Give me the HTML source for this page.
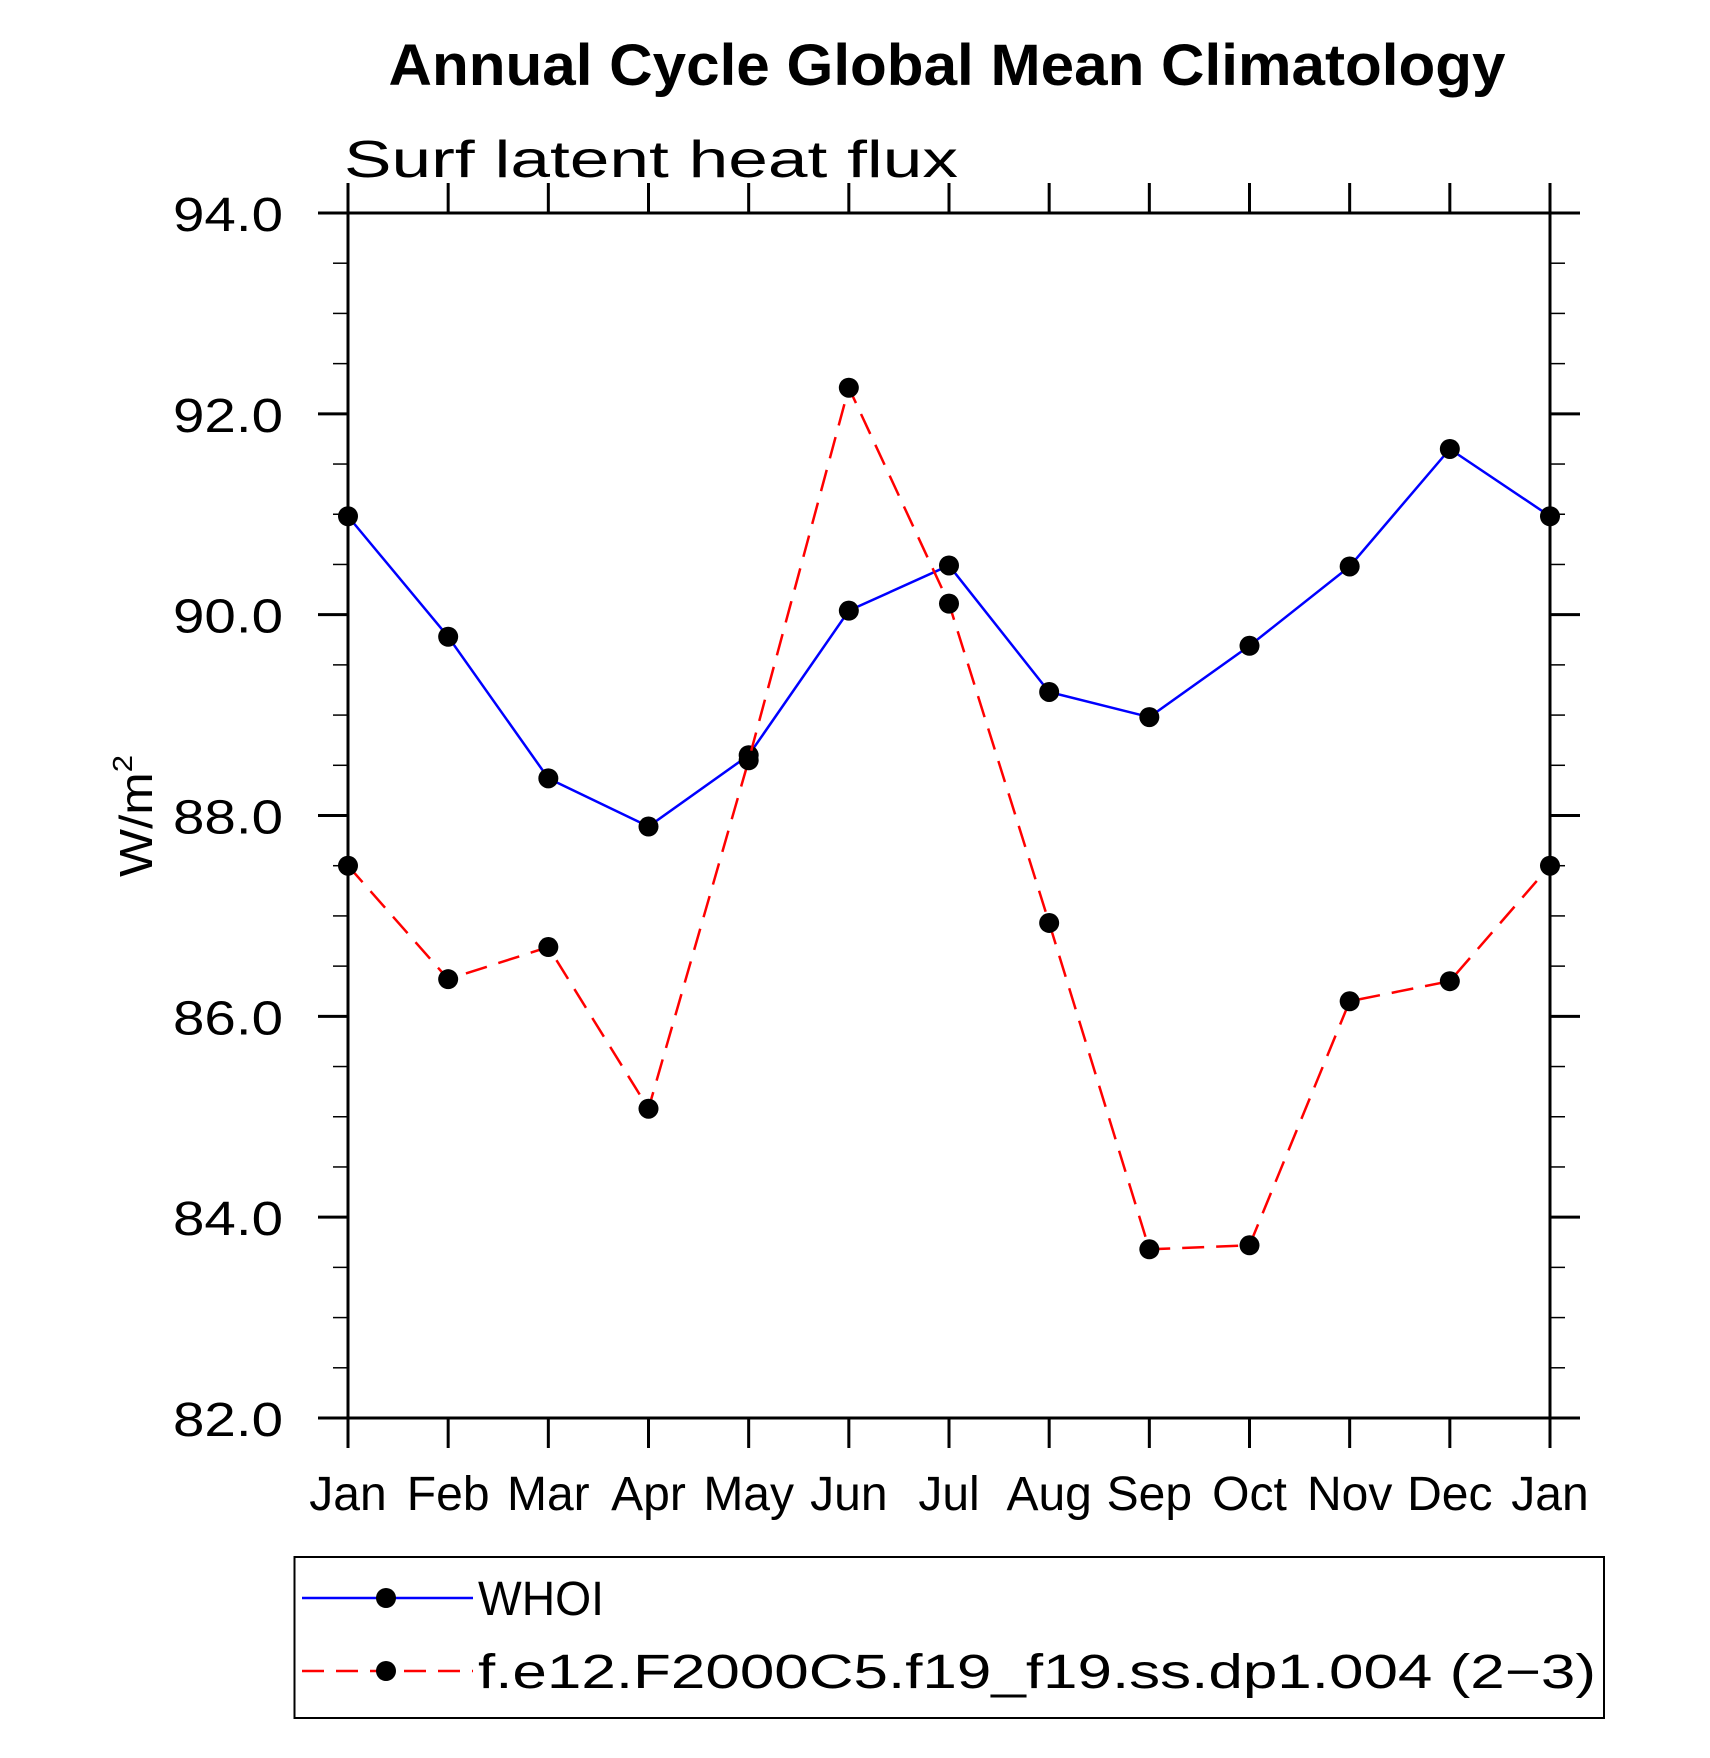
<!DOCTYPE html>
<html><head><meta charset="utf-8"><style>
html,body{margin:0;padding:0;background:#fff;}
svg{display:block;font-family:"Liberation Sans",sans-serif;}
.t{font-size:48px;fill:#000;}
</style></head><body>
<svg id="chart" width="1710" height="1758" viewBox="0 0 1710 1758" xmlns="http://www.w3.org/2000/svg">
<text x="947" y="85" text-anchor="middle" font-weight="bold" font-size="58" textLength="1117" lengthAdjust="spacingAndGlyphs">Annual Cycle Global Mean Climatology</text>
<text x="344" y="177" font-size="52" textLength="614" lengthAdjust="spacingAndGlyphs">Surf latent heat flux</text>
<text transform="translate(152,816) rotate(-90)" text-anchor="middle" font-size="46" textLength="122" lengthAdjust="spacingAndGlyphs">W/m<tspan font-size="28" dy="-20">2</tspan></text>
<g id="axes"></g>
<g id="series"></g>
<rect x="294.5" y="1557" width="1309.5" height="161" fill="none" stroke="#000" stroke-width="2"/>
<g>
<line x1="302" y1="1598" x2="473" y2="1598" stroke="#00f" stroke-width="2.5"/>
<circle cx="386" cy="1598" r="10" fill="#000"/>
<text class="t" x="478" y="1615" textLength="126" lengthAdjust="spacingAndGlyphs">WHOI</text>
</g>
<g>
<line x1="302" y1="1671" x2="473" y2="1671" stroke="#f00" stroke-width="2.5" stroke-dasharray="22,12"/>
<circle cx="386" cy="1671" r="10" fill="#000"/>
<text class="t" x="478" y="1688" textLength="1118" lengthAdjust="spacingAndGlyphs">f.e12.F2000C5.f19_f19.ss.dp1.004 (2−3)</text>
</g>
</svg>
<script>
const months = ["Jan","Feb","Mar","Apr","May","Jun","Jul","Aug","Sep","Oct","Nov","Dec","Jan"];
const whoi = [90.98,89.78,88.37,87.89,88.60,90.04,90.49,89.23,88.98,89.69,90.48,91.65,90.98];
const model = [87.50,86.37,86.69,85.08,88.55,92.26,90.11,86.93,83.68,83.72,86.15,86.35,87.50];
const yTicks = [82,84,86,88,90,92,94];
const yTickLabels = ["82.0","84.0","86.0","88.0","90.0","92.0","94.0"];

const NS = "http://www.w3.org/2000/svg";
const L = 348, R = 1550, T = 213, B = 1418, YMIN = 82, YMAX = 94;
const xs = i => L + (R - L) * i / (months.length - 1);
const ys = v => B - (B - T) * (v - YMIN) / (YMAX - YMIN);
function mk(tag, attrs, parent){const e=document.createElementNS(NS,tag);for(const k in attrs)e.setAttribute(k,attrs[k]);parent.appendChild(e);return e;}
const axes = document.getElementById('axes');
const frame = mk('rect',{x:L,y:T,width:R-L,height:B-T,fill:'none',stroke:'#000','stroke-width':3},axes);


for (let v = YMIN; v <= YMAX + 1e-9; v += 0.5) {
  const major = Math.abs(v - Math.round(v/2)*2) < 1e-9;
  const len = major ? 30 : 15, y = ys(v);
  const a = mk('line',{x1:L-len,y1:y,x2:L,y2:y,stroke:'#000','stroke-width':major?3:1.5},axes);
  
  
  const b = mk('line',{x1:R,y1:y,x2:R+len,y2:y,stroke:'#000','stroke-width':major?3:1.5},axes);
  
  
}
yTicks.forEach((v,i)=>{
  const t = mk('text',{x:173,y:ys(v)+18,class:'t',textLength:110,lengthAdjust:'spacingAndGlyphs'},axes);
  t.textContent = yTickLabels[i];
  
  
});
months.forEach((m,i)=>{
  const x = xs(i);
  const a = mk('line',{x1:x,y1:T-30,x2:x,y2:T,stroke:'#000','stroke-width':3},axes);
  
  
  const b = mk('line',{x1:x,y1:B,x2:x,y2:B+30,stroke:'#000','stroke-width':3},axes);
  
  
  const t = mk('text',{x:x,y:1510,'text-anchor':'middle',class:'t'},axes);
  t.textContent = m;
  
  
});
const series = document.getElementById('series');
function draw(vals, color, dash, name){
  const pts = vals.map((v,i)=>xs(i)+','+ys(v)).join(' ');
  const pl = mk('polyline',{points:pts,fill:'none',stroke:color,'stroke-width':2.5},series);
  if (dash) pl.setAttribute('stroke-dasharray',dash);
  
  
  vals.forEach((v,i)=>{
    const c = mk('circle',{cx:xs(i),cy:ys(v),r:10,fill:'#000'},series);
    
    
  });
}
draw(whoi,'#00f',null,'whoi');
draw(model,'#f00','22,12','model');
</script>
</body></html>
